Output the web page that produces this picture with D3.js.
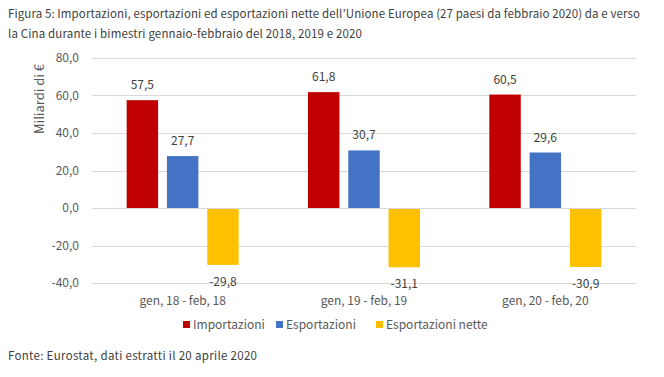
<!DOCTYPE html>
<html>
<head>
<meta charset="utf-8">
<script src="https://cdn.jsdelivr.net/npm/d3@7"></script>
<style>
  body { margin: 0; background: #fff; }
  svg text { font-family: "Noto Sans CJK JP", "Noto Sans", sans-serif; }
</style>
</head>
<body>
<div class="chart"></div>
<script>
// Data
const periods = ["gen, 18 - feb, 18", "gen, 19 - feb, 19", "gen, 20 - feb, 20"];
const series = ["Importazioni", "Esportazioni", "Esportazioni nette"];
const importazioni = [57.5, 61.8, 60.5];
const esportazioni = [27.7, 30.7, 29.6];
const nette = [-29.8, -31.1, -30.9];
const yTicks = [-40, -20, 0, 20, 40, 60, 80];
const colors = ["#c00000", "#4472c4", "#ffc000"];

const values = [importazioni, esportazioni, nette];
const rows = [];
periods.forEach((p, i) => {
  series.forEach((s, j) => rows.push({ period: p, serie: s, value: values[j][i] }));
});

// italian style numbers with plain hyphen
const it = d3.formatLocale({ decimal: ",", thousands: ".", grouping: [3], currency: ["", " €"], minus: "-" });
const fmt = it.format(".1f");

const W = 664, H = 377;
const margin = { top: 58, right: 28, bottom: 94, left: 92 };
const width = W - margin.left - margin.right;
const height = H - margin.top - margin.bottom;

const svg = d3.select(".chart").append("svg")
  .attr("width", W)
  .attr("height", H);

// Title (two lines, stretched to the reference width)
const titleLines = [
  { text: "Figura 5: Importazioni, esportazioni ed esportazioni nette dell’Unione Europea (27 paesi da febbraio 2020) da e verso", y: 18, len: 632 },
  { text: "la Cina durante i bimestri gennaio-febbraio del 2018, 2019 e 2020", y: 38, len: 354 }
];
svg.selectAll("text.title")
  .data(titleLines)
  .enter()
  .append("text")
  .attr("class", "title")
  .attr("x", 8)
  .attr("y", d => d.y)
  .attr("textLength", d => d.len)
  .attr("lengthAdjust", "spacing")
  .style("font-size", "11.5px")
  .style("fill", "#404040")
  .text(d => d.text);

const g = svg.append("g")
  .attr("transform", `translate(${margin.left},${margin.top})`);

const x0 = d3.scaleBand().domain(periods).range([0, width]);
const x1 = d3.scaleBand().domain(series).range([0, 112]).paddingInner(0.22);
const y = d3.scaleLinear().domain([-40, 80]).range([height, 0]);
const color = d3.scaleOrdinal().domain(series).range(colors);

// Gridlines
g.append("g")
  .selectAll("line")
  .data(yTicks)
  .enter()
  .append("line")
  .attr("x1", 0)
  .attr("x2", width)
  .attr("y1", d => Math.round(y(d)) + 0.5)
  .attr("y2", d => Math.round(y(d)) + 0.5)
  .style("stroke", "#d9d9d9")
  .style("stroke-width", 1);

// Y axis
const yAxis = g.append("g")
  .attr("transform", "translate(-10,0)")
  .call(d3.axisLeft(y).tickValues(yTicks).tickSize(0).tickFormat(fmt));
yAxis.select(".domain").remove();
yAxis.selectAll("text")
  .style("font-size", "12px")
  .style("fill", "#595959")
  .style("font-family", "\"Noto Sans CJK JP\", sans-serif");

// Bars
const offset = (x0.bandwidth() - 112) / 2;
g.selectAll("rect.bar")
  .data(rows)
  .enter()
  .append("rect")
  .attr("class", "bar")
  .attr("x", d => x0(d.period) + offset + x1(d.serie))
  .attr("width", x1.bandwidth())
  .attr("y", d => d.value >= 0 ? y(d.value) : y(0) + 1)
  .attr("height", d => Math.abs(y(d.value) - y(0)))
  .style("fill", d => color(d.serie));

// Value labels
g.selectAll("text.val")
  .data(rows)
  .enter()
  .append("text")
  .attr("class", "val")
  .attr("x", d => x0(d.period) + offset + x1(d.serie) + x1.bandwidth() / 2)
  .attr("y", d => d.value >= 0 ? y(d.value) - 11 : y(d.value) + 22)
  .attr("text-anchor", "middle")
  .style("font-size", "12px")
  .style("fill", "#404040")
  .text(d => fmt(d.value));

// X axis labels
const xAxis = g.append("g")
  .attr("transform", `translate(0,${height + 10})`)
  .call(d3.axisBottom(x0).tickSize(0));
xAxis.select(".domain").remove();
xAxis.selectAll("text")
  .style("font-size", "12px")
  .style("fill", "#595959")
  .style("font-family", "\"Noto Sans CJK JP\", sans-serif");

// Y axis title
svg.append("text")
  .attr("transform", "translate(44,99) rotate(-90)")
  .attr("text-anchor", "middle")
  .style("font-size", "13px")
  .style("fill", "#595959")
  .text("Miliardi di €");

// Legend
const legendX = [183, 276, 376];
const legend = svg.append("g").attr("class", "legend");
const item = legend.selectAll("g")
  .data(series)
  .enter()
  .append("g")
  .attr("transform", (d, i) => `translate(${legendX[i]},329)`);
item.append("rect")
  .attr("x", 0)
  .attr("y", -8)
  .attr("width", 7)
  .attr("height", 7)
  .style("fill", d => color(d));
item.append("text")
  .attr("x", 10)
  .attr("y", 0)
  .style("font-size", "12px")
  .style("fill", "#595959")
  .text(d => d);

// Source
svg.append("text")
  .attr("x", 8)
  .attr("y", 360)
  .attr("textLength", 249)
  .attr("lengthAdjust", "spacing")
  .style("font-size", "11.5px")
  .style("fill", "#404040")
  .text("Fonte: Eurostat, dati estratti il 20 aprile 2020");
</script>
</body>
</html>
